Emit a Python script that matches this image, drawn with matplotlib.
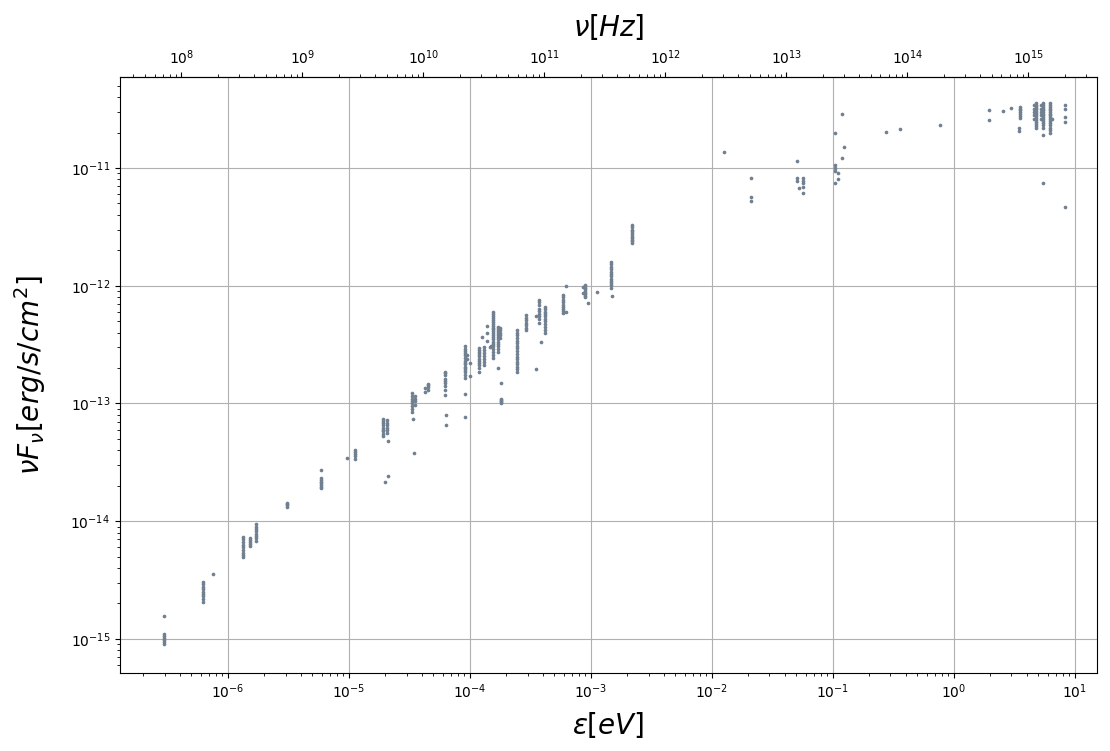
import numpy as np
import matplotlib
matplotlib.use("Agg")
import matplotlib.pyplot as plt

plt.rcParams["mathtext.default"] = "it"

# photon energies (eV) of each measurement group and the fluxes (erg/s/cm^2)
energy_groups = [
    2.98e-7, 6.26e-7, 7.5e-7, 1.34e-6, 1.51e-6, 1.7e-6, 3.1e-6, 5.9e-6, 9.6e-6, 1.12e-5,
    1.9e-5, 2.05e-5, 2.1e-5, 2.0e-5, 3.3e-5, 3.5e-5, 3.4e-5, 3.45e-5, 4.5e-5, 4.3e-5,
    6.2e-5, 6.3e-5, 9.1e-5, 1.0e-4, 9.5e-5, 1.2e-4, 1.3e-4, 1.27e-4, 1.38e-4, 1.54e-4,
    1.5e-4, 1.47e-4, 1.72e-4, 1.77e-4, 1.8e-4, 2.47e-4, 2.9e-4, 3.5e-4, 3.7e-4, 3.85e-4,
    4.2e-4, 5.9e-4, 6.2e-4, 8.9e-4, 8.7e-4, 9.5e-4, 1.12e-3, 1.46e-3, 1.5e-3, 2.2e-3,
    1.26e-2, 2.1e-2, 5.07e-2, 5.3e-2, 5.7e-2, 0.104, 0.11, 0.119, 0.123, 0.277,
    0.36, 0.77, 1.94, 2.57, 2.98, 3.55, 3.45, 4.8, 4.6, 5.5,
    5.3, 6.2, 6.5, 8.3,
]
flux_groups = [
    [1.57e-15, 1.10e-15, 1.05e-15, 1.01e-15, 0.98e-15, 0.94e-15, 0.91e-15],
    [3.05e-15, 2.9e-15, 2.75e-15, 2.65e-15, 2.5e-15, 2.4e-15, 2.3e-15, 2.2e-15, 2.06e-15],
    [3.56e-15],
    [7.4e-15, 7.0e-15, 6.6e-15, 6.3e-15, 6.0e-15, 5.7e-15, 5.4e-15, 5.2e-15, 5.0e-15],
    [7.2e-15, 6.9e-15, 6.6e-15, 6.4e-15, 6.2e-15],
    [9.5e-15, 9.0e-15, 8.6e-15, 8.2e-15, 7.8e-15, 7.5e-15, 7.2e-15, 6.8e-15],
    [1.43e-14, 1.40e-14, 1.37e-14, 1.33e-14],
    [2.72e-14, 2.34e-14, 2.25e-14, 2.17e-14, 2.1e-14, 2.03e-14, 1.96e-14, 1.9e-14],
    [3.44e-14],
    [4.0e-14, 3.85e-14, 3.7e-14, 3.55e-14, 3.4e-14],
    [7.4e-14, 7.1e-14, 6.8e-14, 6.5e-14, 6.2e-14, 6.0e-14, 5.8e-14, 5.5e-14, 5.3e-14],
    [7.2e-14, 6.8e-14, 6.5e-14, 6.2e-14, 6.0e-14, 5.6e-14],
    [4.8e-14, 2.42e-14],
    [2.15e-14],
    [1.23e-13, 1.16e-13, 1.1e-13, 1.05e-13, 1.0e-13, 9.5e-14, 9.0e-14, 8.5e-14],
    [1.15e-13, 1.1e-13, 1.05e-13, 9.7e-14],
    [7.4e-14],
    [3.8e-14],
    [1.47e-13, 1.42e-13, 1.38e-13, 1.3e-13],
    [1.35e-13, 1.26e-13],
    [1.86e-13, 1.8e-13, 1.75e-13, 1.6e-13, 1.55e-13, 1.5e-13, 1.4e-13, 1.3e-13, 1.18e-13],
    [8.0e-14, 6.6e-14],
    [3.1e-13, 2.9e-13, 2.8e-13, 2.7e-13, 2.6e-13, 2.45e-13, 2.3e-13, 2.2e-13, 2.15e-13, 2.05e-13,
     2.0e-13, 1.92e-13, 1.85e-13, 1.75e-13, 1.65e-13, 1.2e-13, 7.7e-14],
    [1.7e-13, 2.2e-13],
    [2.6e-13, 2.4e-13],
    [2.97e-13, 2.85e-13, 2.75e-13, 2.65e-13, 2.55e-13, 2.4e-13, 2.3e-13, 2.2e-13, 2.1e-13, 2.0e-13, 1.85e-13],
    [3.0e-13, 2.85e-13, 2.7e-13, 2.55e-13, 2.4e-13, 2.25e-13, 2.1e-13],
    [3.67e-13],
    [4.55e-13, 4.0e-13, 3.4e-13],
    [6.0e-13, 5.7e-13, 5.5e-13, 5.3e-13, 5.1e-13, 4.9e-13, 4.7e-13, 4.55e-13, 4.4e-13, 4.25e-13,
     4.1e-13, 3.95e-13, 3.8e-13, 3.65e-13, 3.5e-13, 3.35e-13, 3.2e-13, 3.05e-13, 2.9e-13, 2.75e-13,
     2.6e-13, 2.43e-13],
    [3.1e-13],
    [3.0e-13],
    [4.47e-13, 4.3e-13, 4.1e-13, 3.95e-13, 3.8e-13, 3.65e-13, 3.5e-13, 3.35e-13, 3.2e-13, 3.05e-13,
     2.9e-13, 2.74e-13, 2.0e-13],
    [4.4e-13, 4.2e-13, 4.0e-13, 3.8e-13, 3.6e-13],
    [1.5e-13, 1.1e-13, 1.07e-13, 1.05e-13, 1.02e-13, 1.0e-13],
    [4.2e-13, 4.0e-13, 3.8e-13, 3.6e-13, 3.4e-13, 3.25e-13, 3.1e-13, 2.95e-13, 2.8e-13, 2.65e-13,
     2.5e-13, 2.4e-13, 2.25e-13, 2.15e-13, 2.05e-13, 1.95e-13, 1.85e-13],
    [5.6e-13, 5.35e-13, 5.1e-13, 4.85e-13, 4.6e-13, 4.4e-13, 4.2e-13],
    [1.97e-13, 5.5e-13],
    [7.6e-13, 7.2e-13, 6.8e-13, 6.4e-13, 6.1e-13, 5.8e-13, 5.5e-13, 5.2e-13, 4.83e-13],
    [3.3e-13],
    [6.6e-13, 6.3e-13, 6.0e-13, 5.7e-13, 5.5e-13, 5.2e-13, 5.0e-13, 4.7e-13, 4.5e-13, 4.2e-13, 4.0e-13],
    [8.4e-13, 8.0e-13, 7.6e-13, 7.2e-13, 6.9e-13, 6.6e-13, 6.3e-13, 6.1e-13, 5.9e-13],
    [1.0e-12, 6.0e-13],
    [1.02e-12, 9.9e-13, 9.6e-13, 9.3e-13, 9.0e-13, 8.7e-13, 8.5e-13, 8.2e-13, 8.0e-13],
    [9.8e-13, 8.6e-13],
    [7.1e-13],
    [8.8e-13],
    [1.6e-12, 1.52e-12, 1.45e-12, 1.38e-12, 1.3e-12, 1.25e-12, 1.2e-12, 1.15e-12, 1.1e-12, 1.06e-12,
     1.02e-12, 9.6e-13],
    [8.2e-13],
    [3.3e-12, 3.15e-12, 3.0e-12, 2.9e-12, 2.8e-12, 2.7e-12, 2.6e-12, 2.52e-12, 2.45e-12, 2.38e-12, 2.3e-12],
    [1.37e-11],
    [8.2e-12, 5.7e-12, 5.25e-12],
    [1.15e-11, 8.2e-12, 7.8e-12],
    [6.8e-12],
    [8.2e-12, 7.8e-12, 7.4e-12, 6.9e-12, 6.1e-12],
    [1.98e-11, 1.06e-11, 1.0e-11, 9.4e-12, 7.5e-12],
    [9.1e-12, 8.1e-12],
    [2.87e-11, 1.22e-11],
    [1.5e-11],
    [2.02e-11],
    [2.14e-11],
    [2.32e-11],
    [3.1e-11, 2.56e-11],
    [3.05e-11],
    [3.24e-11],
    [3.3e-11, 3.2e-11, 3.1e-11, 3.0e-11, 2.9e-11, 2.75e-11, 2.66e-11],
    [2.18e-11, 2.06e-11],
    [3.56e-11, 3.45e-11, 3.35e-11, 3.25e-11, 3.15e-11, 3.05e-11, 2.95e-11, 2.85e-11, 2.75e-11,
     2.65e-11, 2.55e-11, 2.45e-11, 2.35e-11, 2.26e-11, 2.18e-11],
    [3.4e-11, 3.2e-11, 3.0e-11, 2.8e-11, 2.6e-11],
    [3.56e-11, 3.45e-11, 3.3e-11, 3.2e-11, 3.1e-11, 3.0e-11, 2.9e-11, 2.8e-11, 2.7e-11, 2.6e-11,
     2.5e-11, 2.4e-11, 2.3e-11, 2.2e-11, 1.9e-11, 7.5e-12],
    [3.4e-11, 3.2e-11, 3.0e-11, 2.8e-11, 2.6e-11],
    [3.56e-11, 3.45e-11, 3.3e-11, 3.2e-11, 3.1e-11, 3.0e-11, 2.9e-11, 2.8e-11, 2.7e-11, 2.6e-11,
     2.5e-11, 2.4e-11, 2.3e-11, 2.2e-11, 2.1e-11, 1.98e-11],
    [2.6e-11],
    [3.4e-11, 3.2e-11, 2.7e-11, 2.46e-11, 4.67e-12],
]

H_EV = 4.135667e-15  # Planck constant in eV s

x = []
y = []
for e, fl in zip(energy_groups, flux_groups):
    for f in fl:
        x.append(e)
        y.append(f)

fig = plt.figure(figsize=(11.1, 7.51), dpi=100)
ax = fig.add_axes([0.108, 0.104, 0.880, 0.7935])
ax.scatter(x, y, s=7, color="slategray", linewidths=0, zorder=3)
ax.set_xscale("log")
ax.set_yscale("log")
ax.set_xlim(1.28e-7, 15.2)
ax.set_ylim(5.14e-16, 5.93e-11)
ax.grid(True, which="major", color="#b0b0b0", linewidth=0.8)
ax.set_xlabel(r"$\epsilon [eV]$", fontsize=20, labelpad=6)
ax.set_ylabel(r"$\nu F_{\nu} [erg/s/cm^2]$", fontsize=20, labelpad=16)

sec = ax.secondary_xaxis("top", functions=(lambda e: e / H_EV, lambda n: n * H_EV))
sec.set_xlabel(r"$\nu [Hz]$", fontsize=20, labelpad=9)

fig.savefig("out.png", dpi=100)
